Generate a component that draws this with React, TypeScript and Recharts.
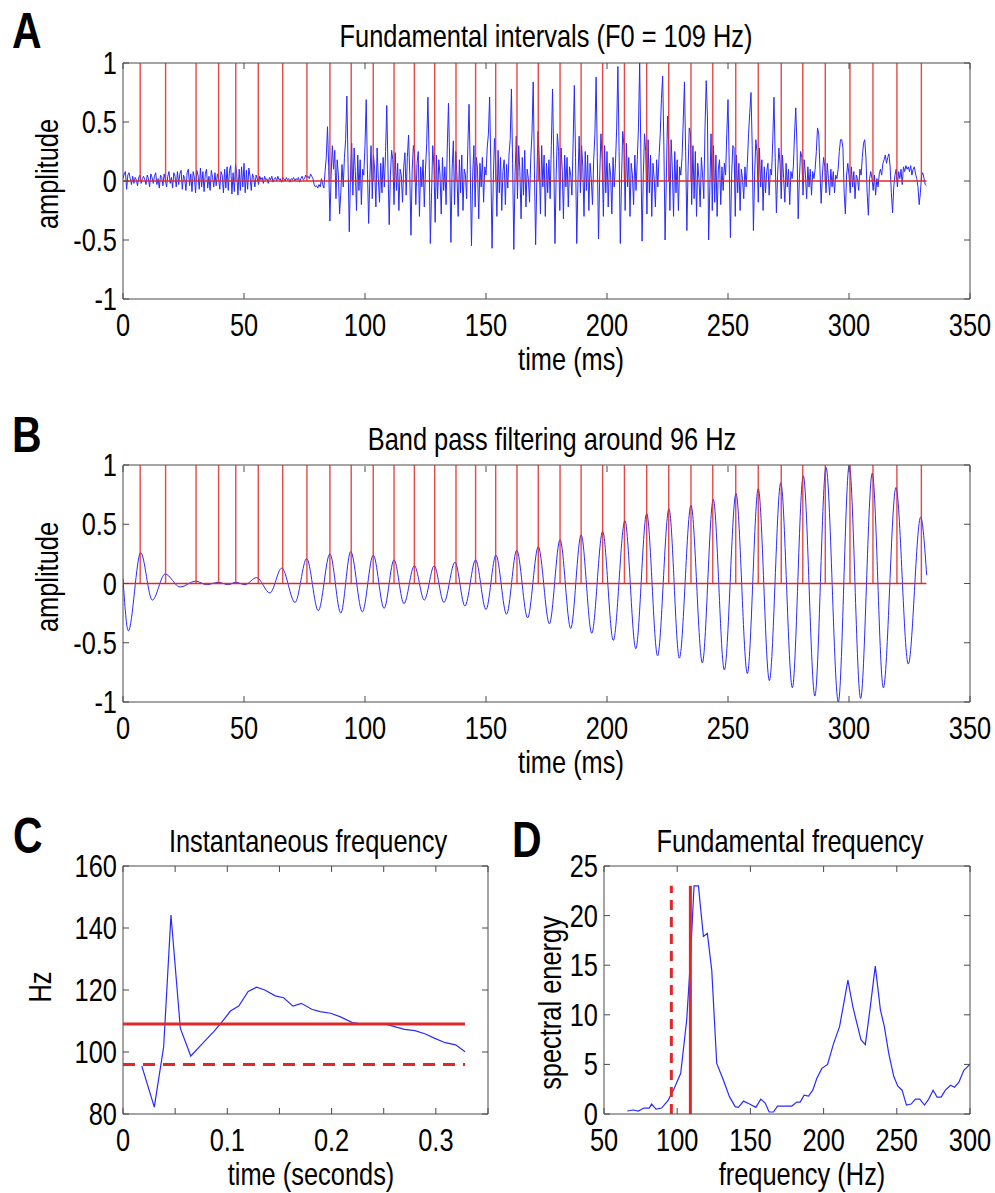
import React from 'react';
import { LineChart, Line, XAxis, YAxis, ReferenceLine, ReferenceArea } from 'recharts';

const FONT = "'Liberation Sans', Arial, sans-serif";
const FRAME = '#4a4a4a';
const BLUE = '#2a2aff';
const RED = '#e02828';
const SQUEEZE = 0.82;

const F0_HZ = 109;
const BAND_HZ = 96;

// pitch marks shared by panels A and B (ms)
const PITCH_MARKS = [
  7.1, 17.6, 30.2, 39.5, 46.6, 55.9, 66.0, 76.0, 85.5, 94.3, 103.4, 112.0,
  120.4, 128.8, 137.6, 145.7, 154.0, 162.8, 171.6, 180.6, 189.3, 198.2, 207.2,
  216.4, 225.5, 234.7, 243.7, 253.2, 262.5, 272.0, 280.9, 290.2, 300.4, 309.9,
  319.8, 329.9,
];
const SIGNAL_END_MS = 332;

// panel A: speech waveform, one value every 0.5 ms
const WAVE_STEP_MS = 0.5;
const WAVE_A = [
  // 0-10
  0.02, 0.06, 0.08, -0.07, 0.05, 0.07, 0.02, -0.03, 0.04, -0.02, 0.03, 0.01, -0.04, 0.03, 0.05, -0.02, 0.02, 0.04, 0.01, -0.03,
  // 10-20
  0.05, 0.02, -0.05, 0.06, 0.03, -0.02, 0.04, 0.07, -0.03, 0.02, -0.06, 0.05, 0.03, -0.04, 0.06, 0.01, -0.05, 0.04, 0.08, -0.02,
  // 20-30
  0.03, -0.06, 0.07, 0.04, -0.05, 0.08, -0.03, 0.06, 0.09, -0.07, 0.05, 0.02, -0.08, 0.07, 0.10, -0.04, 0.06, -0.09, 0.08, 0.03,
  // 30-40
  -0.10, 0.09, 0.05, -0.07, 0.11, -0.05, 0.08, -0.09, 0.06, 0.10, -0.06, 0.04, -0.08, 0.09, 0.03, -0.05, 0.07, -0.04, 0.06, 0.02,
  // 40-50
  -0.07, 0.08, 0.05, -0.10, 0.10, -0.06, 0.12, -0.08, 0.09, 0.13, -0.11, 0.07, -0.09, 0.14, 0.06, -0.12, 0.10, -0.08, 0.12, -0.05,
  // 50-60
  0.15, -0.10, 0.09, -0.07, 0.11, 0.04, -0.08, 0.06, 0.03, -0.05, 0.05, 0.02, -0.03, 0.04, 0.01, 0.03, -0.02, 0.04, 0.01, 0.02,
  // 60-70
  -0.02, 0.03, 0.01, 0.04, -0.01, 0.02, 0.03, 0.00, 0.04, 0.01, 0.02, -0.01, 0.03, 0.02, 0.00, 0.03, 0.01, 0.02, -0.01, 0.02,
  // 70-80
  0.01, 0.03, 0.00, 0.02, 0.01, 0.03, -0.01, 0.02, 0.04, 0.01, 0.02, 0.05, 0.03, 0.04, 0.02, 0.06, 0.04, 0.02, -0.03, -0.05,
  // 80-90
  -0.04, -0.06, -0.03, -0.05, 0.02, -0.03, -0.06, 0.08, 0.20, 0.46, 0.12, -0.34, 0.05, 0.30, 0.10, 0.26, -0.15, 0.18, 0.05, -0.28,
  // 90-100
  -0.10, 0.14, -0.05, 0.20, 0.35, 0.72, 0.15, -0.43, 0.05, 0.32, -0.12, 0.28, 0.08, -0.25, 0.22, -0.08, 0.18, -0.20, 0.10, 0.05,
  // 100-110
  0.30, 0.69, 0.10, -0.36, 0.02, 0.30, -0.15, 0.22, 0.10, -0.22, 0.28, 0.02, -0.18, 0.15, -0.10, 0.20, -0.05, 0.25, 0.64, 0.10,
  // 110-120
  -0.37, 0.05, 0.26, 0.18, -0.20, 0.24, -0.08, 0.15, -0.25, 0.10, 0.05, -0.18, 0.12, 0.24, -0.12, 0.20, 0.39, 0.05, -0.46, 0.10,
  // 120-130
  0.30, 0.22, -0.20, 0.15, 0.25, -0.30, 0.12, -0.05, 0.18, -0.22, 0.10, 0.32, 0.71, 0.20, -0.53, -0.10, 0.30, 0.12, -0.35, 0.22,
  // 130-140
  -0.15, 0.18, 0.05, -0.28, 0.20, -0.08, 0.12, -0.20, 0.28, 0.66, 0.15, -0.52, 0.10, 0.34, -0.20, 0.25, 0.05, -0.30, 0.18, -0.10,
  // 140-150
  0.22, -0.25, 0.10, 0.05, -0.15, 0.30, 0.65, 0.10, -0.55, 0.05, 0.30, -0.22, 0.20, 0.10, -0.32, 0.15, -0.05, 0.20, -0.18, 0.12,
  // 150-160
  0.05, 0.28, 0.40, 0.71, 0.12, -0.57, 0.00, 0.36, 0.15, -0.30, 0.26, -0.10, 0.20, -0.25, 0.08, 0.18, -0.20, 0.14, -0.06, 0.22,
  // 160-170
  0.35, 0.78, 0.15, -0.58, 0.05, 0.38, -0.15, 0.30, 0.08, -0.32, 0.20, -0.12, 0.26, -0.22, 0.10, 0.02, -0.18, 0.20, 0.40, 0.84,
  // 170-180
  0.10, -0.54, 0.02, 0.42, 0.20, -0.28, 0.30, -0.05, 0.22, -0.30, 0.15, -0.10, 0.18, -0.15, 0.30, 0.78, 0.18, -0.53, 0.05, 0.40,
  // 180-190
  0.25, -0.25, 0.28, 0.10, -0.32, 0.22, -0.05, 0.20, -0.22, 0.12, 0.05, -0.12, 0.32, 0.81, 0.20, -0.53, 0.00, 0.38, -0.10, 0.30,
  // 190-200
  0.12, -0.30, 0.25, -0.08, 0.22, -0.25, 0.15, 0.02, -0.20, 0.18, 0.40, 0.88, 0.20, -0.49, 0.05, 0.40, 0.18, -0.30, 0.30, -0.10,
  // 200-210
  0.25, -0.22, 0.15, 0.05, -0.28, 0.20, -0.05, 0.15, 0.45, 0.97, 0.25, -0.53, 0.02, 0.42, 0.30, -0.25, 0.32, -0.05, 0.20, -0.30,
  // 210-220
  0.15, 0.05, -0.20, 0.22, -0.08, 0.18, 0.45, 1.00, 0.22, -0.51, 0.05, 0.40, 0.25, -0.28, 0.35, -0.10, 0.22, -0.30, 0.15, 0.02,
  // 220-230
  -0.22, 0.18, -0.05, 0.20, 0.40, 0.70, 0.89, 0.30, -0.50, 0.00, 0.55, 0.30, -0.25, 0.35, 0.10, -0.30, 0.25, -0.10, 0.18, -0.25,
  // 230-240
  0.12, 0.05, 0.20, 0.50, 0.84, 0.25, -0.42, 0.10, 0.45, 0.40, -0.20, 0.30, -0.15, 0.25, -0.30, 0.15, 0.02, -0.22, 0.20, 0.05,
  // 240-250
  -0.15, 0.45, 0.85, 0.55, -0.50, -0.05, 0.40, -0.25, 0.30, -0.18, 0.22, -0.30, 0.10, 0.18, -0.20, 0.12, -0.08, 0.15, 0.05, 0.40,
  // 250-260
  0.69, 0.15, -0.48, 0.05, 0.30, 0.28, -0.30, 0.22, -0.10, 0.15, -0.25, 0.10, 0.02, -0.15, 0.12, -0.05, 0.15, 0.40, 0.58, 0.75,
  // 260-270
  0.30, -0.42, 0.05, 0.35, 0.25, -0.18, 0.28, -0.05, 0.18, -0.25, 0.12, -0.10, 0.08, 0.15, -0.12, 0.10, 0.05, 0.35, 0.71, 0.20,
  // 270-280
  -0.27, 0.05, 0.28, 0.15, -0.15, 0.22, 0.02, -0.18, 0.15, -0.05, 0.10, -0.20, 0.08, 0.02, 0.12, 0.40, 0.62, 0.30, -0.32, 0.02,
  // 280-290
  0.25, 0.20, -0.12, 0.18, 0.05, -0.15, 0.12, -0.05, 0.10, -0.12, 0.08, 0.02, 0.10, 0.25, 0.45, 0.40, 0.10, -0.19, 0.05, 0.20,
  // 290-300
  0.12, -0.10, 0.15, 0.02, -0.12, 0.10, -0.05, 0.08, -0.10, 0.05, 0.02, 0.10, 0.25, 0.35, 0.35, 0.28, -0.10, -0.28, 0.05, 0.15,
  // 300-310
  0.05, -0.10, 0.12, -0.05, 0.08, -0.15, 0.05, 0.02, -0.08, 0.10, 0.05, 0.20, 0.32, 0.35, 0.20, -0.10, -0.29, 0.02, 0.08, 0.02,
  // 310-320
  -0.08, 0.05, -0.12, 0.02, -0.05, 0.06, 0.10, 0.05, 0.15, 0.18, 0.22, 0.15, 0.20, 0.23, 0.12, -0.10, -0.27, -0.05, 0.05, 0.10,
  // 320-330
  -0.05, 0.08, 0.02, 0.10, -0.03, 0.12, 0.08, 0.13, 0.10, 0.12, 0.08, 0.13, 0.05, 0.10, 0.12, 0.06, 0.02, -0.05, -0.20, -0.10,
  // 330-332
  0.05, 0.07, 0.02, -0.03, -0.04,
];

// panel B: band-pass output, turning points (ms, amplitude)
const BP_TIME = [
  0, 2.2, 7.3, 12.1, 17.4, 23.6, 30.0, 34.6, 39.4, 43.5, 46.6, 50.4, 55.2, 60.7,
  65.6, 71.1, 75.9, 80.7, 85.5, 90.0, 94.1, 98.9, 103.4, 107.9, 112.0, 116.1,
  120.4, 124.5, 128.6, 132.6, 137.2, 141.3, 145.7, 150.0, 154.1, 158.5, 162.7,
  167.2, 171.6, 176.2, 180.6, 185.0, 189.3, 193.7, 198.2, 202.6, 207.4, 211.9,
  216.4, 220.9, 225.6, 229.9, 234.7, 239.4, 243.9, 248.5, 253.3, 258.0, 262.5,
  267.1, 271.8, 276.6, 281.1, 285.9, 290.5, 295.6, 300.1, 304.8, 309.6, 314.2,
  319.4, 324.5, 329.6, 332.1,
];
const BP_VALUE = [
  0.04, -0.40, 0.26, -0.14, 0.08, -0.03, 0.02, -0.01, 0.01, -0.01, 0.01, -0.01,
  0.05, -0.08, 0.13, -0.16, 0.21, -0.23, 0.25, -0.25, 0.27, -0.24, 0.24, -0.21,
  0.20, -0.17, 0.15, -0.14, 0.15, -0.16, 0.18, -0.19, 0.20, -0.22, 0.24, -0.26,
  0.28, -0.29, 0.31, -0.34, 0.37, -0.38, 0.41, -0.42, 0.44, -0.48, 0.53, -0.55,
  0.59, -0.61, 0.63, -0.63, 0.66, -0.67, 0.71, -0.73, 0.76, -0.76, 0.80, -0.82,
  0.85, -0.88, 0.91, -0.95, 0.98, -1.00, 1.00, -0.97, 0.93, -0.88, 0.81, -0.68,
  0.56, 0.07,
];

// panel C: instantaneous frequency
const IF_TIME = [
  0.018, 0.030, 0.039, 0.046, 0.055, 0.065, 0.075, 0.087, 0.094, 0.103, 0.111,
  0.120, 0.128, 0.136, 0.146, 0.154, 0.163, 0.171, 0.181, 0.189, 0.199, 0.208,
  0.220, 0.232, 0.243, 0.253, 0.262, 0.270, 0.280, 0.290, 0.299, 0.309, 0.319,
  0.328,
];
const IF_HZ = [
  95.5, 82.2, 101.7, 144.2, 107.6, 98.7, 102.3, 106.6, 109.3, 113.2, 114.8,
  119.5, 120.9, 120.0, 118.1, 117.5, 114.8, 115.7, 113.8, 113.0, 112.5, 111.4,
  109.5, 108.9, 108.9, 108.9, 108.0, 107.3, 106.9, 105.8, 104.4, 103.0, 102.3,
  100.1,
];
const IF_LINE_END = 0.328;

// panel D: spectrum
const SPEC_FREQ = [
  65.9, 70.0, 73.4, 77.3, 80.9, 82.5, 85.5, 89.4, 93.9, 97.4, 102.4, 106.5,
  108.8, 111.5, 114.5, 117.9, 120.6, 123.6, 127.0, 131.6, 135.7, 139.6, 141.8,
  145.3, 149.4, 153.7, 157.1, 160.1, 162.8, 165.8, 168.5, 178.3, 181.7, 184.0,
  186.7, 189.7, 192.6, 195.4, 198.8, 202.7, 206.8, 210.9, 213.6, 216.6, 220.0,
  222.8, 225.5, 228.5, 231.9, 235.3, 238.8, 241.5, 244.5, 247.9, 250.7, 253.6,
  256.6, 259.8, 262.7, 265.7, 268.9, 271.8, 274.8, 277.5, 280.3, 283.2, 286.7,
  289.4, 292.4, 295.8, 299.9,
];
const SPEC_ENERGY = [
  0.3, 0.4, 0.3, 0.6, 0.6, 1.0, 0.5, 0.6, 1.4, 2.4, 4.1, 9.5,
  14.9, 23.0, 23.0, 17.9, 18.2, 14.5, 5.1, 3.4, 1.75, 0.74, 0.67,
  1.3, 1.0, 0.67, 1.5, 1.1, 0.2, 0.2, 0.8, 0.8, 1.2, 1.2,
  1.9, 1.8, 2.4, 3.6, 4.6, 5.0, 7.1, 8.8, 11.0, 13.5, 10.8,
  9.1, 7.5, 7.0, 10.8, 14.9, 10.5, 8.8, 6.1, 3.8, 2.8, 2.4,
  0.9, 1.0, 1.5, 1.5, 0.9, 1.5, 2.4, 1.7, 1.7, 2.4, 2.9,
  2.7, 3.2, 4.4, 5.0,
];
const SPEC_MARK_TOP = 23;

const TIME_TICKS = [0, 50, 100, 150, 200, 250, 300, 350];
const AMP_TICKS = [-1, -0.5, 0, 0.5, 1];
const SEC_TICKS = [0, 0.05, 0.1, 0.15, 0.2, 0.25, 0.3, 0.35];
const SEC_LABELS = [0, 0.1, 0.2, 0.3];
const HZ_TICKS = [80, 100, 120, 140, 160];
const FREQ_TICKS = [50, 100, 150, 200, 250, 300];
const ENERGY_TICKS = [0, 5, 10, 15, 20, 25];

const waveRows = WAVE_A.map((v, i) => ({ t: i * WAVE_STEP_MS, v }));
const bpRows = BP_TIME.map((t, i) => ({ t, v: BP_VALUE[i] }));
const ifRows = IF_TIME.map((t, i) => ({ t, hz: IF_HZ[i] }));
const specRows = SPEC_FREQ.map((f, i) => ({ f, e: SPEC_ENERGY[i] }));

const textStyle = { fontFamily: FONT, fontSize: 31, fill: '#000' };
const letterStyle = { fontFamily: FONT, fontSize: 50, fontWeight: 700, fill: '#000' };

// condensed text: the reference uses a narrow face, so squeeze horizontally
function NText({ x, y, anchor = 'start', rotate = 0, style = textStyle, children }: any) {
  return (
    <g transform={`translate(${x},${y}) rotate(${rotate}) scale(${SQUEEZE},1)`}>
      <text x={0} y={0} textAnchor={anchor} style={style}>
        {children}
      </text>
    </g>
  );
}

// inward MATLAB style ticks on both sides of the box
function xTick(plotH: number, label: (v: number) => string) {
  return (p: any) => {
    const { x, y, payload } = p;
    const s = label(payload.value);
    return (
      <g>
        <line x1={x} x2={x} y1={y} y2={y - 6} stroke={FRAME} />
        <line x1={x} x2={x} y1={y - plotH} y2={y - plotH + 6} stroke={FRAME} />
        {s !== '' && (
          <NText x={x} y={y + 37} anchor="middle">
            {s}
          </NText>
        )}
      </g>
    );
  };
}

function yTick(plotW: number) {
  return (p: any) => {
    const { x, y, payload } = p;
    return (
      <g>
        <line x1={x} x2={x + 6} y1={y} y2={y} stroke={FRAME} />
        <line x1={x + plotW} x2={x + plotW - 6} y1={y} y2={y} stroke={FRAME} />
        <NText x={x - 6} y={y + 11} anchor="end">
          {String(payload.value)}
        </NText>
      </g>
    );
  };
}

const axisBase = {
  type: 'number' as const,
  tickLine: false,
  axisLine: false,
  tickSize: 0,
  tickMargin: 0,
  interval: 0 as const,
  allowDataOverflow: true,
};

function PitchPanel({ rows, curve }: { rows: { t: number; v: number }[]; curve: 'linear' | 'monotone' }) {
  return (
    <LineChart
      width={995}
      height={curve === 'linear' ? 390 : 400}
      data={rows}
      margin={{ top: curve === 'linear' ? 63 : 75, right: 25, bottom: curve === 'linear' ? 51 : 48, left: 60 }}
    >
      <XAxis {...axisBase} dataKey="t" domain={[0, 350]} ticks={TIME_TICKS} height={40}
        tick={xTick(236, (v) => String(v))} />
      <YAxis {...axisBase} domain={[-1, 1]} ticks={AMP_TICKS} width={63} tick={yTick(847)} />
      <ReferenceArea x1={0} x2={350} y1={-1} y2={1} fill="none" stroke={FRAME} strokeWidth={1} />
      <Line dataKey="v" type={curve} stroke={BLUE} strokeWidth={1} dot={false} isAnimationActive={false} />
      <ReferenceLine segment={[{ x: 0, y: 0 }, { x: SIGNAL_END_MS, y: 0 }]} stroke={RED} strokeWidth={1.4} />
      {PITCH_MARKS.map((t) => (
        <ReferenceLine key={t} segment={[{ x: t, y: 0 }, { x: t, y: 1 }]} stroke={RED} strokeWidth={1.4} strokeOpacity={0.85} />
      ))}
    </LineChart>
  );
}

export default function App() {
  return (
    <div style={{ position: 'relative', width: 995, height: 1193, background: '#fff', overflow: 'hidden' }}>
      <style>{'body{margin:0}'}</style>
      <div style={{ position: 'absolute', left: 0, top: 0 }}>
        <PitchPanel rows={waveRows} curve="linear" />
      </div>
      <div style={{ position: 'absolute', left: 0, top: 390 }}>
        <PitchPanel rows={bpRows} curve="monotone" />
      </div>
      <div style={{ position: 'absolute', left: 0, top: 790 }}>
        <LineChart width={500} height={403} data={ifRows} margin={{ top: 76, right: 12, bottom: 39, left: 60 }}>
          <XAxis {...axisBase} dataKey="t" domain={[0, 0.35]} ticks={SEC_TICKS} height={40}
            tick={xTick(248, (v) => (SEC_LABELS.includes(v) ? String(v) : ''))} />
          <YAxis {...axisBase} domain={[80, 160]} ticks={HZ_TICKS} width={63} tick={yTick(365)} />
          <ReferenceArea x1={0} x2={0.35} y1={80} y2={160} fill="none" stroke={FRAME} strokeWidth={1} />
          <Line dataKey="hz" type="linear" stroke={BLUE} strokeWidth={1.2} dot={false} isAnimationActive={false} />
          <ReferenceLine segment={[{ x: 0, y: F0_HZ }, { x: IF_LINE_END, y: F0_HZ }]} stroke={RED} strokeWidth={3} />
          <ReferenceLine segment={[{ x: 0, y: BAND_HZ }, { x: IF_LINE_END, y: BAND_HZ }]} stroke={RED} strokeWidth={3}
            strokeDasharray="12 8" />
        </LineChart>
      </div>
      <div style={{ position: 'absolute', left: 500, top: 790 }}>
        <LineChart width={495} height={403} data={specRows} margin={{ top: 76, right: 25, bottom: 39, left: 41 }}>
          <XAxis {...axisBase} dataKey="f" domain={[50, 300]} ticks={FREQ_TICKS} height={40}
            tick={xTick(248, (v) => String(v))} />
          <YAxis {...axisBase} domain={[0, 25]} ticks={ENERGY_TICKS} width={63} tick={yTick(366)} />
          <ReferenceArea x1={50} x2={300} y1={0} y2={25} fill="none" stroke={FRAME} strokeWidth={1} />
          <Line dataKey="e" type="linear" stroke={BLUE} strokeWidth={1.2} dot={false} isAnimationActive={false} />
          <ReferenceLine segment={[{ x: F0_HZ, y: 0 }, { x: F0_HZ, y: SPEC_MARK_TOP }]} stroke={RED} strokeWidth={3} />
          <ReferenceLine segment={[{ x: BAND_HZ, y: 0 }, { x: BAND_HZ, y: SPEC_MARK_TOP }]} stroke={RED} strokeWidth={3}
            strokeDasharray="10 7" />
        </LineChart>
      </div>
      <svg width={995} height={1193} style={{ position: 'absolute', left: 0, top: 0, pointerEvents: 'none' }}>
        <NText x={12} y={48} style={letterStyle}>A</NText>
        <NText x={546} y={47} anchor="middle">{`Fundamental intervals (F0 = ${F0_HZ} Hz)`}</NText>
        <NText x={58} y={174} rotate={-90} anchor="middle">amplitude</NText>
        <NText x={571} y={370} anchor="middle">time (ms)</NText>

        <NText x={12} y={452} style={letterStyle}>B</NText>
        <NText x={552} y={450} anchor="middle">{`Band pass filtering around ${BAND_HZ} Hz`}</NText>
        <NText x={58} y={577} rotate={-90} anchor="middle">amplitude</NText>
        <NText x={571} y={773} anchor="middle">time (ms)</NText>

        <NText x={13} y={853} style={letterStyle}>C</NText>
        <NText x={308} y={852} anchor="middle">Instantaneous frequency</NText>
        <NText x={51} y={987} rotate={-90} anchor="middle">Hz</NText>
        <NText x={311} y={1185} anchor="middle">time (seconds)</NText>

        <NText x={512} y={857} style={letterStyle}>D</NText>
        <NText x={790} y={852} anchor="middle">Fundamental frequency</NText>
        <NText x={561} y={1003} rotate={-90} anchor="middle">spectral energy</NText>
        <NText x={802} y={1185} anchor="middle">frequency (Hz)</NText>
      </svg>
    </div>
  );
}
